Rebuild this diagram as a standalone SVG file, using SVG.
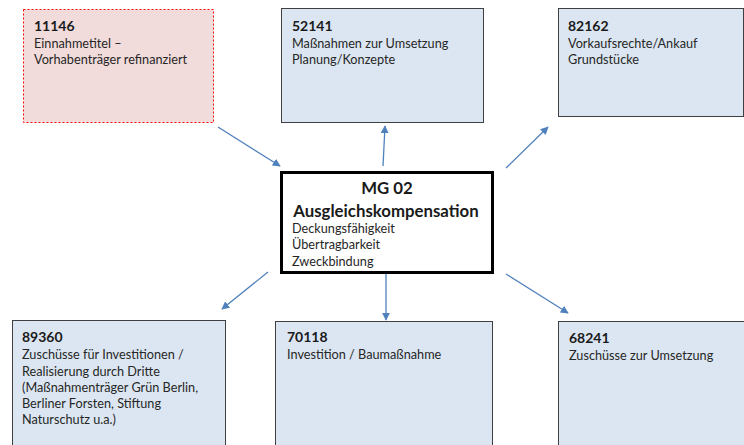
<svg xmlns="http://www.w3.org/2000/svg" width="744" height="445" viewBox="0 0 744 445">
<defs>
<marker id="ah" viewBox="0 0 10 10" refX="9" refY="5" markerWidth="8" markerHeight="8" markerUnits="userSpaceOnUse" orient="auto">
<path d="M0,0 L10,5 L0,10 z" fill="#4f81bd"/>
</marker>
<style>
.box{fill:#dce6f2;stroke:#404040;stroke-width:1}
.red{fill:#f2dcdb;stroke:#ff0000;stroke-width:1;stroke-dasharray:2,2}
.center{fill:#ffffff;stroke:#000000;stroke-width:3}
text{font-family:Lato,"Open Sans","Liberation Sans",sans-serif;fill:#1a1a1a}
.t{font-weight:bold;font-size:14px}
.d{font-size:12.7px;fill:#262626}
.ct{font-weight:bold;font-size:16.8px;text-anchor:middle}
.conn line{stroke:#4f81bd;stroke-width:1.3;marker-end:url(#ah)}
</style>
</defs>
<rect width="744" height="445" fill="#ffffff"/>
<g id="n11146">
<rect class="red" x="23.5" y="9.5" width="190" height="113"/>
<text class="t" x="34" y="31">11146</text>
<text class="d" x="34" y="48">Einnahmetitel –</text>
<text class="d" x="34" y="64">Vorhabenträger refinanziert</text>
</g>
<g id="n52141">
<rect class="box" x="281.5" y="8.5" width="202" height="114"/>
<text class="t" x="292" y="31">52141</text>
<text class="d" x="292" y="48">Maßnahmen zur Umsetzung</text>
<text class="d" x="292" y="64">Planung/Konzepte</text>
</g>
<g id="n82162">
<rect class="box" x="558.5" y="8.5" width="185" height="108"/>
<text class="t" x="568" y="31">82162</text>
<text class="d" x="568" y="48">Vorkaufsrechte/Ankauf</text>
<text class="d" x="568" y="64">Grundstücke</text>
</g>
<g id="mg02">
<rect class="center" x="281.5" y="172.5" width="211" height="100"/>
<text class="ct" x="387" y="194">MG 02</text>
<text class="ct" x="386" y="217">Ausgleichskompensation</text>
<text class="d" x="292" y="233">Deckungsfähigkeit</text>
<text class="d" x="292" y="249">Übertragbarkeit</text>
<text class="d" x="292" y="266">Zweckbindung</text>
</g>
<g id="n89360">
<rect class="box" x="12.5" y="320.5" width="213" height="130"/>
<text class="t" x="22" y="342">89360</text>
<text class="d" x="22" y="359">Zuschüsse für Investitionen /</text>
<text class="d" x="22" y="376">Realisierung durch Dritte</text>
<text class="d" x="22" y="392">(Maßnahmenträger Grün Berlin,</text>
<text class="d" x="22" y="408">Berliner Forsten, Stiftung</text>
<text class="d" x="22" y="424">Naturschutz u.a.)</text>
</g>
<g id="n70118">
<rect class="box" x="275.5" y="321.5" width="217" height="130"/>
<text class="t" x="287" y="342">70118</text>
<text class="d" x="287" y="359">Investition / Baumaßnahme</text>
</g>
<g id="n68241">
<rect class="box" x="558.5" y="321.5" width="190" height="130"/>
<text class="t" x="569" y="343">68241</text>
<text class="d" x="569" y="360">Zuschüsse zur Umsetzung</text>
</g>
<g class="conn" id="connectors">
<line x1="218" y1="127" x2="280" y2="166"/>
<line x1="383" y1="166" x2="385" y2="126"/>
<line x1="506" y1="168" x2="548" y2="127"/>
<line x1="268" y1="272" x2="222" y2="309"/>
<line x1="386" y1="274" x2="386" y2="320"/>
<line x1="506" y1="274" x2="568" y2="313"/>
</g>
</svg>
